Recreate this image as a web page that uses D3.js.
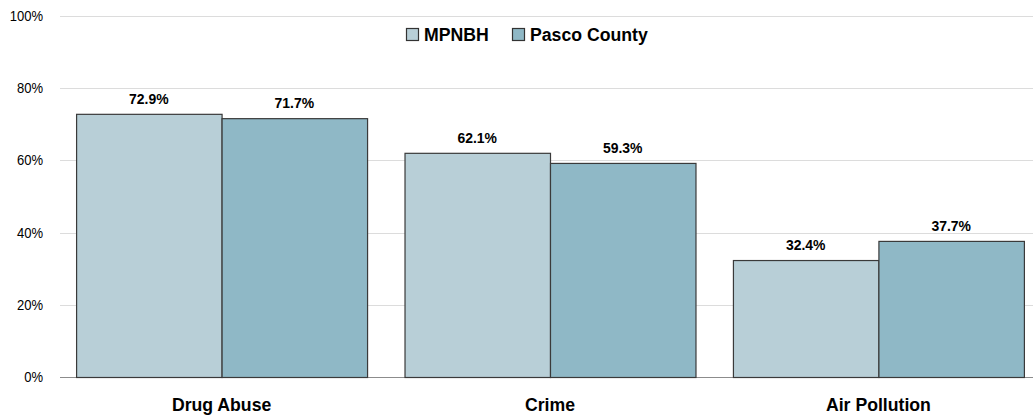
<!DOCTYPE html>
<html>
<head>
<meta charset="utf-8">
<script src="https://cdn.jsdelivr.net/npm/d3@7"></script>
<style>
  body { margin: 0; background: #fff; }
  text { font-family: "Liberation Sans", Arial, sans-serif; fill: #000; }
</style>
</head>
<body>
<svg width="1033" height="419"></svg>
<script>
const categories = ['Drug Abuse', 'Crime', 'Air Pollution'];
const seriesNames = ['MPNBH', 'Pasco County'];
const mpnbh = [72.9, 62.1, 32.4];
const pasco = [71.7, 59.3, 37.7];
const yTicks = [0, 20, 40, 60, 80, 100];
const colors = ['#b8cfd7', '#8fb8c6'];

const svg = d3.select('svg');
const sx = 0.93; // fonts look a bit condensed

const yScale = d3.scaleLinear()
    .domain([0, 100])
    .range([377, 16]);

// outer band for categories, inner band for the two series
const xScale = d3.scaleBand()
    .domain(categories)
    .range([60, 1040])
    .paddingInner(0.114)
    .paddingOuter(0.049);

const xInner = d3.scaleBand()
    .domain(seriesNames)
    .range([0, xScale.bandwidth()]);

// ----------------------------------------------------------
//                      gridlines + y labels
// ----------------------------------------------------------
svg.append('g')
    .selectAll('line')
    .data(yTicks)
    .join('line')
    .attr('x1', 60)
    .attr('x2', 1033)
    .attr('y1', d => Math.round(yScale(d)) + 0.5)
    .attr('y2', d => Math.round(yScale(d)) + 0.5)
    .attr('stroke', d => d === 0 ? '#8c8c8c' : '#dcdcdc')
    .attr('stroke-width', 1.2);

svg.append('g')
    .selectAll('text')
    .data(yTicks)
    .join('text')
    .attr('transform', d => `translate(43, ${yScale(d) + 5}) scale(${sx},1)`)
    .attr('text-anchor', 'end')
    .style('font-size', '14px')
    .text(d => d + '%');

// ----------------------------------------------------------
//                      now the bars...
// ----------------------------------------------------------
const rows = categories.map((c, i) => ({
    category: c,
    values: [
        { series: seriesNames[0], value: mpnbh[i] },
        { series: seriesNames[1], value: pasco[i] }
    ]
}));

const groups = svg.append('g')
    .selectAll('g')
    .data(rows)
    .join('g')
    .attr('transform', d => `translate(${xScale(d.category)}, 0)`);

groups.selectAll('rect')
    .data(d => d.values)
    .join('rect')
    .attr('x', d => xInner(d.series) + 0.5)
    .attr('y', d => yScale(d.value) + 0.5)
    .attr('width', xInner.bandwidth())
    .attr('height', d => yScale(0) - yScale(d.value))
    .attr('fill', (d, i) => colors[i])
    .attr('stroke', '#3a3a3a')
    .attr('stroke-width', 1.2);

groups.selectAll('text.val')
    .data(d => d.values)
    .join('text')
    .attr('class', 'val')
    .attr('transform', d => `translate(${xInner(d.series) + xInner.bandwidth() / 2}, ${yScale(d.value) - 10}) scale(${sx},1)`)
    .attr('text-anchor', 'middle')
    .style('font-size', '15px')
    .style('font-weight', 'bold')
    .text(d => d.value.toFixed(1) + '%');

// category labels
svg.append('g')
    .selectAll('text')
    .data(categories)
    .join('text')
    .attr('transform', d => `translate(${xScale(d) + xScale.bandwidth() / 2}, 411) scale(${sx},1)`)
    .attr('text-anchor', 'middle')
    .style('font-size', '19px')
    .style('font-weight', 'bold')
    .text(d => d);

// ----------------------------------------------------------
//                      legend
// ----------------------------------------------------------
const legendX = [406, 512];
const legend = svg.append('g')
    .selectAll('g')
    .data(seriesNames)
    .join('g')
    .attr('transform', (d, i) => `translate(${legendX[i]}, 28)`);

legend.append('rect')
    .attr('x', 0.5)
    .attr('y', 0.5)
    .attr('width', 12)
    .attr('height', 12)
    .attr('fill', (d, i) => colors[i])
    .attr('stroke', '#333')
    .attr('stroke-width', 1.2);

legend.append('text')
    .attr('transform', `translate(18, 13) scale(${sx},1)`)
    .style('font-size', '19px')
    .style('font-weight', 'bold')
    .text(d => d);
</script>
</body>
</html>
